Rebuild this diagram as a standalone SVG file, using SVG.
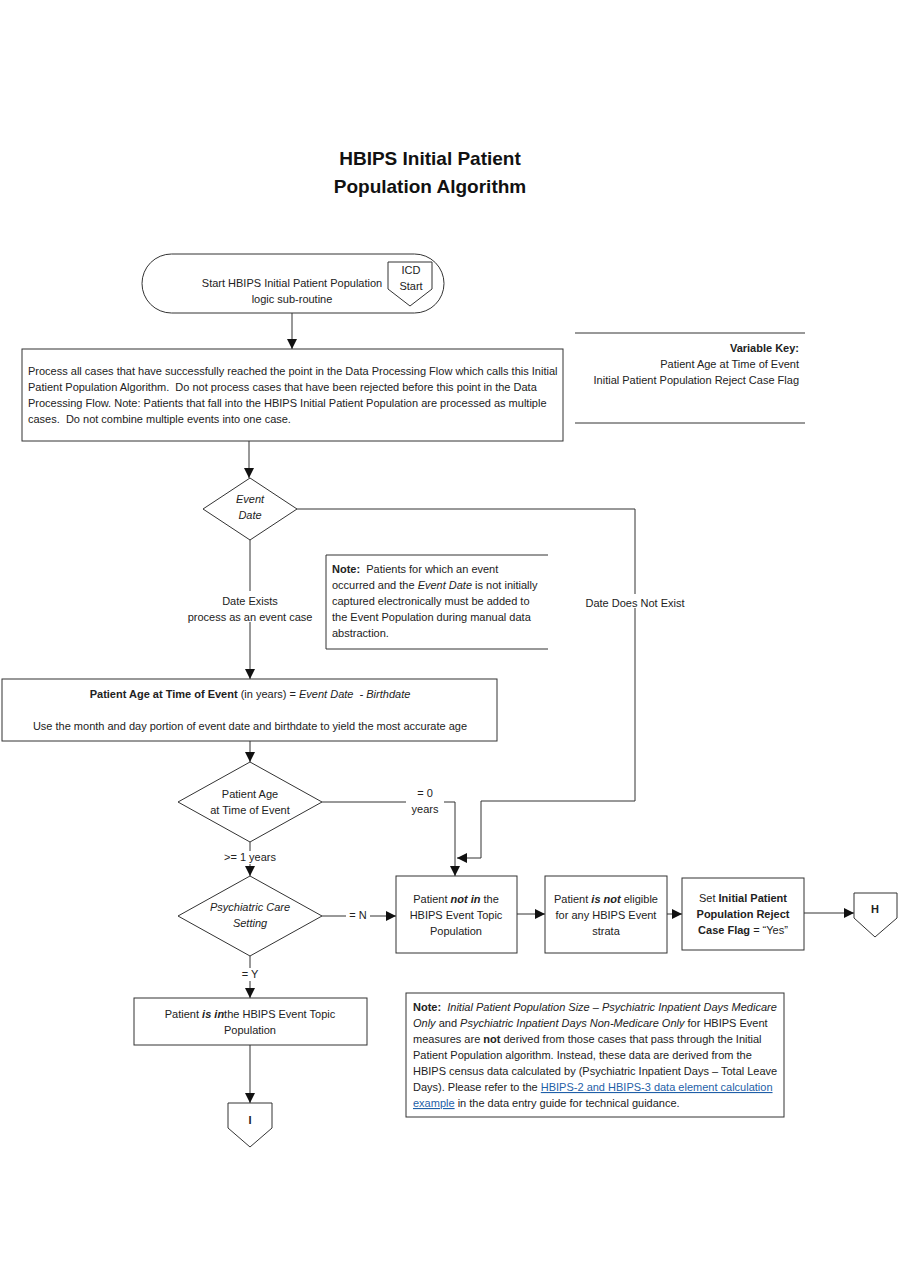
<svg xmlns="http://www.w3.org/2000/svg" width="900" height="1286" viewBox="0 0 900 1286">
<defs>
<style>
text{font-family:"Liberation Sans",Arial,sans-serif;font-size:11px;fill:#222;white-space:pre}
.c{text-anchor:middle}
.r{text-anchor:end}
.b{font-weight:bold}
.i{font-style:italic}
.t{font-size:19px;font-weight:bold;fill:#111}
.s{fill:#fff;stroke:#333;stroke-width:1}
.ln{fill:none;stroke:#333;stroke-width:1}
.lk{fill:#1f5fa8;text-decoration:underline}
</style>
<marker id="a" viewBox="0 0 10 10" refX="10" refY="5" markerWidth="10" markerHeight="10" markerUnits="userSpaceOnUse" orient="auto"><path d="M0,0L10,5L0,10z" fill="#111"/></marker>
</defs>
<rect width="900" height="1286" fill="#fff"/>
<g id="title"><text class="c t" x="430" y="165">HBIPS Initial Patient</text><text class="c t" x="430" y="193">Population Algorithm</text></g>

<g id="connectors">
<path class="ln" d="M292,313V349" marker-end="url(#a)"/>
<path class="ln" d="M249,441V478" marker-end="url(#a)"/>
<path class="ln" d="M297,509H635V801H481V858H457" marker-end="url(#a)"/>
<path class="ln" d="M250,540V679" marker-end="url(#a)"/>
<path class="ln" d="M250,741V762" marker-end="url(#a)"/>
<path class="ln" d="M322,802H455V876" marker-end="url(#a)"/>
<path class="ln" d="M250,842V876" marker-end="url(#a)"/>
<path class="ln" d="M322,916H396" marker-end="url(#a)"/>
<path class="ln" d="M517,914H545" marker-end="url(#a)"/>
<path class="ln" d="M667,914H682" marker-end="url(#a)"/>
<path class="ln" d="M804,913H854" marker-end="url(#a)"/>
<path class="ln" d="M250,956V998" marker-end="url(#a)"/>
<path class="ln" d="M250,1045V1103" marker-end="url(#a)"/>
<rect x="583" y="594" width="104" height="14" fill="#fff"/>
<text class="c" x="635" y="607">Date Does Not Exist</text>
<rect x="185" y="591" width="130" height="31" fill="#fff"/>
<text class="c" x="250" y="605">Date Exists</text>
<text class="c" x="250" y="621">process as an event case</text>
<rect x="406" y="788" width="38" height="28" fill="#fff"/>
<text class="c" x="425" y="797">= 0</text>
<text class="c" x="425" y="813">years</text>
<rect x="220" y="851" width="60" height="13" fill="#fff"/>
<text class="c" x="250" y="861">&gt;= 1 years</text>
<rect x="346" y="909" width="24" height="13" fill="#fff"/>
<text class="c" x="358" y="919">= N</text>
<rect x="238" y="968" width="24" height="13" fill="#fff"/>
<text class="c" x="250" y="978">= Y</text>
</g>

<g id="start">
<rect class="s" x="142" y="254" width="302" height="59" rx="29.5"/>
<text class="c" x="292" y="287">Start HBIPS Initial Patient Population</text>
<text class="c" x="292" y="303">logic sub-routine</text>
</g>
<g id="icd-start">
<path class="s" d="M388,262H432V289L410,306L388,289Z"/>
<text class="c" x="411" y="274">ICD</text>
<text class="c" x="411" y="290">Start</text>
</g>

<g id="variable-key">
<path class="ln" d="M575,333H805M575,423H805"/>
<text class="r b" x="799" y="352">Variable Key:</text>
<text class="r" x="799" y="368">Patient Age at Time of Event</text>
<text class="r" x="799" y="384">Initial Patient Population Reject Case Flag</text>
</g>

<g id="process-all">
<rect class="s" x="22" y="349" width="541" height="92"/>
<text x="28" y="375">Process all cases that have successfully reached the point in the Data Processing Flow which calls this Initial</text>
<text x="28" y="391">Patient Population Algorithm.  Do not process cases that have been rejected before this point in the Data</text>
<text x="28" y="407">Processing Flow. Note: Patients that fall into the HBIPS Initial Patient Population are processed as multiple</text>
<text x="28" y="423">cases.  Do not combine multiple events into one case.</text>
</g>

<g id="event-date">
<path class="s" d="M250,478L297,509L250,540L203,509Z"/>
<text class="c i" x="250" y="503">Event</text>
<text class="c i" x="250" y="519">Date</text>
</g>

<g id="note-event">
<path class="ln" d="M548,555H326V649H548"/>
<text x="332" y="573"><tspan class="b">Note:</tspan>  Patients for which an event</text>
<text x="332" y="589">occurred and the <tspan class="i">Event Date</tspan> is not initially</text>
<text x="332" y="605">captured electronically must be added to</text>
<text x="332" y="621">the Event Population during manual data</text>
<text x="332" y="637">abstraction.</text>
</g>

<g id="age-calc">
<rect class="s" x="2" y="679" width="495" height="62"/>
<text class="c" x="250" y="698"><tspan class="b">Patient Age at Time of Event</tspan> (in years) = <tspan class="i">Event Date  - Birthdate</tspan></text>
<text class="c" x="250" y="730">Use the month and day portion of event date and birthdate to yield the most accurate age</text>
</g>

<g id="age-decision">
<path class="s" d="M250,762L322,802L250,842L178,802Z"/>
<text class="c" x="250" y="798">Patient Age</text>
<text class="c" x="250" y="814">at Time of Event</text>
</g>

<g id="psych-decision">
<path class="s" d="M250,876L322,916L250,956L178,916Z"/>
<text class="c i" x="250" y="911">Psychiatric Care</text>
<text class="c i" x="250" y="927">Setting</text>
</g>

<g id="not-in">
<rect class="s" x="396" y="876" width="121" height="77"/>
<text class="c" x="456" y="903">Patient <tspan class="b i">not in</tspan> the</text>
<text class="c" x="456" y="919">HBIPS Event Topic</text>
<text class="c" x="456" y="935">Population</text>
</g>

<g id="not-eligible">
<rect class="s" x="545" y="876" width="122" height="77"/>
<text class="c" x="606" y="903">Patient <tspan class="b i">is not</tspan> eligible</text>
<text class="c" x="606" y="919">for any HBIPS Event</text>
<text class="c" x="606" y="935">strata</text>
</g>

<g id="set-flag">
<rect class="s" x="682" y="878" width="122" height="72"/>
<text class="c" x="743" y="902">Set <tspan class="b">Initial Patient</tspan></text>
<text class="c b" x="743" y="918">Population Reject</text>
<text class="c" x="743" y="934"><tspan class="b">Case Flag</tspan> = “Yes”</text>
</g>

<g id="conn-h">
<path class="s" d="M854,893H897V918L875,937L854,918Z"/>
<text class="c b" x="875" y="913">H</text>
</g>

<g id="is-in">
<rect class="s" x="134" y="998" width="233" height="47"/>
<text class="c" x="250" y="1018">Patient <tspan class="b i">is in</tspan>the HBIPS Event Topic</text>
<text class="c" x="250" y="1034">Population</text>
</g>

<g id="conn-i">
<path class="s" d="M228,1103H272V1128L250,1147L228,1128Z"/>
<text class="c b" x="250" y="1124">I</text>
</g>

<g id="note-census">
<rect class="s" x="406" y="993" width="378" height="124"/>
<text x="413" y="1011"><tspan class="b">Note:</tspan>  <tspan class="i">Initial Patient Population Size – Psychiatric Inpatient Days Medicare</tspan></text>
<text x="413" y="1027"><tspan class="i">Only</tspan> and <tspan class="i">Psychiatric Inpatient Days Non-Medicare Only</tspan> for HBIPS Event</text>
<text x="413" y="1043">measures are <tspan class="b">not</tspan> derived from those cases that pass through the Initial</text>
<text x="413" y="1059">Patient Population algorithm. Instead, these data are derived from the</text>
<text x="413" y="1075">HBIPS census data calculated by (Psychiatric Inpatient Days – Total Leave</text>
<text x="413" y="1091">Days). Please refer to the <tspan class="lk">HBIPS-2 and HBIPS-3 data element calculation</tspan></text>
<text x="413" y="1107"><tspan class="lk">example</tspan> in the data entry guide for technical guidance.</text>
</g>
</svg>
